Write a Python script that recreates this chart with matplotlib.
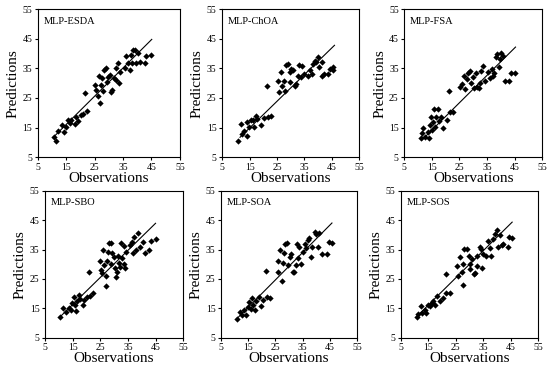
import numpy as np
import matplotlib.pyplot as plt

plt.rcParams['font.family'] = ['Liberation Serif', 'DejaVu Serif']

esda_obs = [10.5, 11.2, 12, 13.5, 14.2, 15, 15.6, 16.4, 16.8, 18, 18.5, 19.1, 20.3, 20.9,
            21.5, 22.3, 25, 25.6, 26, 26.4, 26.8, 27.3, 27.6, 27.9, 28.2, 28.9, 29.4, 29.7,
            30.3, 30.6, 31.2, 31.7, 32.6, 32.4, 33.2, 33.6, 34, 35.6, 36.2, 36.8, 37.4, 37.7,
            38.2, 38.5, 39.1, 39.7, 40.3, 41.1, 42.8, 43.2, 45]
esda_pred = [11.8, 10.4, 14, 15.7, 13.5, 15.2, 17.4, 16.5, 17.7, 16.3, 18.6, 17.2, 19.1, 19.7,
             26.7, 20.5, 29.3, 27.6, 25.6, 32.4, 23.3, 29.3, 31.9, 27.4, 34.4, 35, 30.5, 32.2,
             32.7, 27, 27.6, 31.6, 35, 31, 36.9, 29.9, 33.8, 35, 39.2, 36.7, 34.4, 39.5,
             36.7, 41.2, 41.2, 36.7, 40.1, 37.2, 36.9, 39.2, 39.5]

choa_obs = [10.6, 11.7, 12.1, 13, 13.9, 14.1, 14.8, 15.4, 16.3, 16.7, 17.3, 17.8, 19.1, 20.2,
            21.2, 21.6, 22.8, 25.2, 25.7, 26.3, 27, 27.6, 27.9, 28.3, 29.1, 29.8, 30.1, 29.8,
            31, 31.6, 32, 32.6, 33.2, 33.8, 34.3, 34.9, 36.2, 37.1, 37.7, 38.3, 38.7, 39.3,
            39.9, 40.4, 41.3, 41.6, 42.3, 43.5, 44.4, 45.5, 45.6]
choa_pred = [10.6, 16.2, 12.9, 14, 16.8, 12.3, 15.1, 17.7, 17.4, 15.3, 18.8, 17.9, 16, 18.3,
             29.2, 18.7, 19, 30.8, 26.9, 33.7, 28.9, 30.8, 27.5, 36.2, 36.5, 33.7, 34.8, 30.3,
             34.3, 29.2, 29.7, 32.5, 36.2, 32, 35.7, 33.1, 32.5, 34.5, 33.1, 36.5, 37.6, 37,
             38.7, 35.3, 37, 32.5, 33.1, 33.1, 34.8, 35.3, 34.5]

fsa_obs = [11.1, 11.3, 11.9, 12.5, 13.5, 14, 14.3, 14.6, 15, 15.3, 15.8, 16.2, 16.5, 17.1,
           17.6, 18.3, 19.2, 20.4, 21.3, 21.6, 22.5, 25.3, 25.9, 26.5, 27.1, 27.7, 28, 28.7,
           29.3, 29.8, 30.2, 31, 31.4, 32, 32.5, 32.9, 33.4, 34.1, 35.2, 36.2, 36.8, 37.2,
           37.6, 38.3, 38.6, 39.2, 39.6, 40.2, 40.7, 41.6, 42.9, 43.5, 45]
fsa_pred = [11.3, 13, 15, 11.9, 13.6, 11.3, 15.7, 18.7, 14.2, 16.8, 21.4, 15.3, 18.7, 21.4,
            17.1, 18.7, 14.7, 17.6, 27.3, 20.4, 20.4, 28.7, 29.8, 32.5, 27.9, 31.3, 33.6, 34.2,
            30.2, 32.1, 28.5, 33.6, 28.7, 28.2, 30.2, 34.2, 35.9, 30.7, 33.9, 31.9, 34.8, 32.5,
            33.6, 38.8, 39.7, 35.3, 38.2, 40.1, 39.3, 30.7, 30.7, 33.6, 33.6]

sbo_obs = [10.4, 11.6, 12.5, 13.5, 14.4, 14.8, 15.4, 15.9, 16.3, 16.6, 17.1, 17.8, 18.8, 19.1,
           20, 20.9, 21.3, 22.3, 24.8, 25.3, 25.6, 26.1, 26.5, 26.9, 27.1, 27.5, 27.8, 28.1,
           28.8, 29, 29.4, 29.8, 30.3, 30.6, 31, 31.3, 31.9, 32.1, 32.5, 32.9, 33.4, 33.5,
           33.8, 34.4, 35.6, 36.3, 36.9, 37.3, 38.1, 38.8, 39.4, 40.4, 41.3, 42.8, 43.5, 45]
sbo_pred = [12.1, 15, 13.8, 15.3, 14.4, 16.9, 18.9, 16.1, 14.2, 17.6, 19.5, 18.3, 16.1, 17.8,
            18.9, 27.4, 19.2, 20.3, 31.2, 28.2, 26.9, 34.8, 29.7, 22.6, 26, 31.2, 34.3, 37.1,
            37.3, 30.2, 33.7, 32.4, 28.6, 25.8, 27.5, 32.9, 30.3, 29.1, 37.3, 32.1, 36.2, 30,
            28.6, 34.3, 36.6, 37.7, 33.7, 39.1, 34.8, 40.5, 36, 37.7, 33.7, 34.8, 38, 38.4]

soa_obs = [11, 12, 12.6, 13.6, 14.2, 14.8, 15.4, 16.1, 16.3, 16.9, 17.3, 17.9, 18.8, 19.7,
           20.6, 21.5, 22, 23.1, 25.8, 26.1, 26.7, 27.4, 27.7, 28.2, 28.6, 29.3, 29.8, 30.2,
           30.8, 31.3, 32, 32.5, 32.9, 33.3, 33.7, 34.4, 35, 35.7, 36.3, 36.9, 37.4, 38,
           38.5, 39.4, 39.9, 40.5, 41.1, 42.1, 43.9, 44.6, 45.8]
soa_pred = [11.5, 13.8, 12.8, 14.3, 12.6, 15.5, 17.2, 14.9, 18.6, 16.3, 14.5, 17.5, 18.9, 15.7,
            17.7, 27.6, 18.9, 18.6, 31.1, 27.5, 34.8, 24.3, 30.5, 33.9, 36.7, 37.3, 29.7, 32.5,
            33.6, 27.4, 27.4, 29.7, 37, 32.2, 35.9, 30.2, 34.2, 36.8, 35.6, 38.2, 38.8, 32.5,
            35.9, 41, 40.2, 35.9, 40.5, 33.6, 33.6, 37.6, 37.3]

sos_obs = [10.7, 11.3, 12.3, 12.8, 13.7, 14.3, 14.9, 15.6, 16.2, 16.8, 17.4, 18.2, 19.2, 20.4,
           21.4, 21.6, 22.8, 25.5, 26, 26.6, 27.2, 27.6, 27.6, 28.2, 29.1, 29.7, 30.1, 30.3,
           30.9, 31.6, 32.1, 32.7, 32.9, 33.7, 34.3, 34.5, 35.1, 36, 36.9, 37.5, 37.9, 38.5,
           39.4, 40, 40.6, 41.2, 41.8, 42.4, 44, 44.5, 45.5]
sos_pred = [12.2, 13, 15.7, 13.4, 14.5, 13.4, 16, 15.7, 16.8, 17.6, 16, 19.3, 17.4, 18.5,
            26.8, 20.3, 20.1, 29.4, 26, 32.5, 27.5, 30, 23.1, 35.1, 35.1, 32.9, 28.3, 30,
            31.8, 26.6, 27.1, 29.4, 32.9, 35.7, 35.1, 28.8, 33.5, 32.9, 38, 35.5, 32.9, 38.6,
            40.3, 41.7, 35.9, 39.8, 36.5, 37, 35.9, 39.1, 38.9]

# trend line ends (x0, y0, x1, y1) as drawn in the reference
trend_lines = [(10.3, 11.6, 45.1, 44.8), (11.5, 11.7, 46.0, 42.8), (11.3, 10.7, 45.3, 42.2),
               (10.4, 12.1, 45.0, 43.9), (10.8, 11.5, 45.8, 44.0), (10.7, 12.2, 45.6, 44.3)]

models = ['MLP-ESDA', 'MLP-ChOA', 'MLP-FSA', 'MLP-SBO', 'MLP-SOA', 'MLP-SOS']
obs_all = [esda_obs, choa_obs, fsa_obs, sbo_obs, soa_obs, sos_obs]
pred_all = [esda_pred, choa_pred, fsa_pred, sbo_pred, soa_pred, sos_pred]
ticks = [5, 15, 25, 35, 45, 55]

boxes = [[0.069, 0.573, 0.258, 0.402], [0.404, 0.573, 0.249, 0.402], [0.735, 0.573, 0.251, 0.402],
         [0.082, 0.082, 0.251, 0.40], [0.402, 0.082, 0.247, 0.40], [0.729, 0.082, 0.249, 0.40]]

fig = plt.figure(figsize=(5.5, 3.68), dpi=100)

for name, x, y, tl, box in zip(models, obs_all, pred_all, trend_lines, boxes):
    ax = fig.add_axes(box)
    ax.plot(x, y, 'D', color='black', markersize=3.2, markeredgewidth=0)
    ax.plot([tl[0], tl[2]], [tl[1], tl[3]], color='black', lw=0.8)
    ax.set_xlim(5, 55)
    ax.set_ylim(5, 55)
    ax.set_xticks(ticks)
    ax.set_yticks(ticks)
    ax.tick_params(labelsize=7, length=2.5, width=0.8, pad=1.5)
    for s in ax.spines.values():
        s.set_linewidth(0.8)
    ax.set_xlabel('Observations', fontsize=11, labelpad=0)
    ax.set_ylabel('Predictions', fontsize=11, labelpad=2)
    ax.text(0.04, 0.95, name, transform=ax.transAxes, fontsize=7.5, va='top', ha='left')

fig.savefig('out.png', dpi=100)
